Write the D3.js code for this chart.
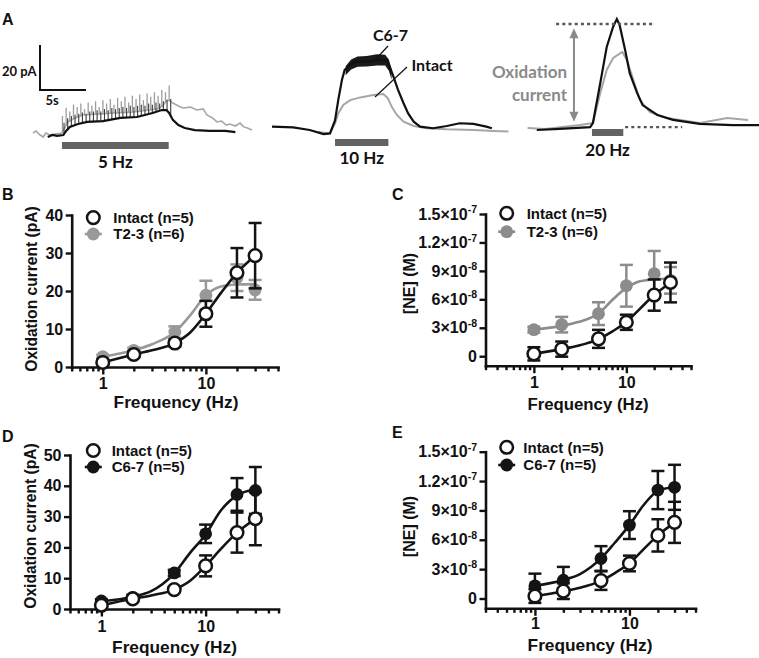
<!DOCTYPE html>
<html><head><meta charset="utf-8">
<script src="https://cdn.jsdelivr.net/npm/d3@7"></script>
<style>body{margin:0;background:#fff}svg{display:block}</style>
</head><body>
<svg id="c" width="759" height="658"></svg>
<script>
// ---------------- DATA ----------------
// Panels B-E: frequency response (mean ± SEM)
const freqHz = [1, 2, 5, 10, 20, 30];
const intactCurrent    = [1.2, 3.3, 6.3, 14.0, 24.8, 29.3];
const intactCurrentSem = [0.6, 0.8, 0.9, 3.4, 6.5, 8.6];
const t23Current       = [2.7, 4.4, 9.2, 18.9, 23.5, 20.3];
const t23CurrentSem    = [0.5, 0.7, 1.5, 3.8, 3.5, 2.6];
const c67Current       = [2.6, 3.8, 11.7, 24.4, 37.2, 38.5];
const c67CurrentSem    = [0.6, 0.8, 1.0, 3.0, 5.3, 7.6];
const intactNE    = [0.25e-8, 0.75e-8, 1.83e-8, 3.58e-8, 6.45e-8, 7.78e-8];
const intactNESem = [0.7e-8, 0.8e-8, 0.95e-8, 0.8e-8, 1.65e-8, 2.1e-8];
const t23NE       = [2.8e-8, 3.33e-8, 4.49e-8, 7.43e-8, 8.7e-8, 8.0e-8];
const t23NESem    = [0.3e-8, 0.82e-8, 1.2e-8, 2.2e-8, 2.4e-8, 1.4e-8];
const c67NE       = [1.29e-8, 1.87e-8, 4.09e-8, 7.5e-8, 11.08e-8, 11.36e-8];
const c67NESem    = [1.25e-8, 1.36e-8, 1.26e-8, 1.42e-8, 1.95e-8, 2.3e-8];
// fitted curves
const curveFreqHz = [1, 2, 3, 5, 7, 10, 14, 20, 30];
const intactCurrentFit = [1.2, 3.3, 4.4, 6.3, 9.0, 14.0, 19.5, 24.8, 29.3];
const t23CurrentFit    = [2.7, 4.4, 6.0, 9.2, 13.5, 18.9, 21.2, 21.7, 21.8];
const c67CurrentFit    = [2.5, 4.0, 5.8, 11.6, 18.0, 24.2, 32.0, 36.9, 38.8];
const intactNEFit = [0.25e-8, 0.75e-8, 1.1e-8, 1.8e-8, 2.6e-8, 3.6e-8, 5.0e-8, 6.45e-8, 7.75e-8];
const t23NEFit    = [2.8e-8, 3.2e-8, 3.6e-8, 4.5e-8, 5.9e-8, 7.2e-8, 7.9e-8, 8.1e-8, 8.2e-8];
const c67NEFit    = [1.3e-8, 1.9e-8, 2.5e-8, 4.1e-8, 5.7e-8, 7.5e-8, 9.5e-8, 11.0e-8, 11.4e-8];
const currentTicks = [0, 10, 20, 30, 40];
const currentTicksD = [0, 10, 20, 30, 40, 50];
const neTicks = [0, 3e-8, 6e-8, 9e-8, 1.2e-7, 1.5e-7];
const freqMajorTicks = [1, 10];
const freqMinorTicks = [0.3, 0.4, 0.5, 0.6, 0.7, 0.8, 0.9, 2, 3, 4, 5, 6, 7, 8, 9, 20, 30, 40, 50];

// Panel A: example traces, [time s, current pA]
const trace5Gray = [[0,0.9],[0.33,1.8],[0.65,0.4],[1.1,-0.9],[1.4,0.9],[1.85,0],[2.4,0.4],[3.15,0.9],[3.8,5.8],[4.6,7.6],[5.4,8.9],[7.3,9.3],[8.9,9.8],[10.9,10.2],[12.7,11.1],[13.5,11.6],[14.1,12.9],[14.6,15.6],[14.9,15.1],[15.2,14.2],[15.8,12.9],[16.3,12.0],[17.1,12.4],[17.8,11.1],[18.5,11.6],[18.9,8.9],[19.5,7.6],[20.0,5.8],[20.5,6.2],[21.0,4.4],[21.4,4.9],[22.0,4.0],[22.5,5.3],[22.9,3.6],[23.3,3.1],[23.8,2.2]];
const trace5Black = [[1.6,-0.9],[2.1,0],[2.6,-0.4],[3.3,0],[3.6,1.8],[4.0,3.6],[4.9,4.9],[5.9,5.8],[7.6,6.2],[9.5,7.6],[11.3,8.0],[13.0,9.8],[14.0,11.1],[14.5,11.1],[14.8,9.8],[15.2,6.7],[15.8,4.4],[16.5,3.1],[17.6,2.2],[19.2,1.8],[20.9,1.8],[22.0,1.3]];
const spike5GrayTops = [8.5,12.0,10.5,13.5,12.5,14.0,11.5,14.5,13.0,15.0,12.5,15.5,14.0,16.0,13.5,16.5,15.0,17.0,14.5,17.5,16.0,18.0,15.5,18.5,17.0,19.0,17.5,20.0,19.0,22.0];
const spike5BlackTops = [5.5,7.5,8.5,9.0,9.5,10.0,9.5,10.5,10.5,11.0,10.5,11.5,11.0,12.0,11.5,12.0,12.5,12.0,13.0,12.5,13.0,13.5,13.0,14.0,13.5,14.5,14.0,15.0,15.5,16.0];
const trace10Black = [[0,0.6],[2.3,0.3],[4.1,-0.9],[5.6,-2.7],[6.3,-2.4],[6.85,3.4],[7.2,12.4],[7.6,21.3],[7.9,25.8],[8.5,28.0],[9.2,29.5],[10.3,29.5],[11.4,30.2],[12.5,30.2],[12.8,27.3],[13.2,22.8],[13.7,16.9],[14.3,11.0],[14.8,6.5],[15.4,2.8],[16.1,0.6],[17.5,-0.1],[19.0,0.9],[20.4,2.1],[21.9,1.8],[23.3,0.6],[23.9,-0.1]];
const band10Upper = [[8.0,27.5],[8.6,30.5],[9.3,31.8],[10.3,32.0],[11.4,32.8],[12.3,32.6],[12.7,30.5],[13.0,26.0]];
const band10Lower = [[8.0,23.5],[8.6,26.0],[9.3,27.2],[10.3,27.3],[11.4,27.8],[12.3,27.8],[12.7,25.5],[13.0,21.5]];
const trace10Gray = [[5.0,-1.8],[6.3,-2.4],[6.85,2.1],[7.2,6.5],[7.75,10.2],[8.5,12.4],[9.6,13.6],[11.0,14.7],[12.1,15.1],[12.6,13.2],[13.0,9.5],[13.55,5.9],[14.3,2.8],[15.4,0.9],[16.8,-0.1],[19.0,-0.6],[21.9,-0.9],[24.1,-1.3],[25.7,-1.6]];
const trace20Black = [[4.0,-0.9],[6.5,-0.4],[9.8,0.4],[10.1,2.2],[10.9,20.0],[11.6,36.0],[12.3,45.0],[12.7,48.4],[13.0,45.8],[13.6,34.7],[14.1,24.4],[14.9,15.6],[15.5,10.2],[17.1,5.8],[18.8,3.6],[21.7,1.8],[25.3,1.3],[28.2,1.3]];
const trace20Gray = [[3.0,0],[4.9,-0.4],[8.7,1.3],[10.1,2.2],[10.9,15.6],[11.6,25.8],[12.3,31.1],[13.3,33.8],[13.8,30.2],[14.5,21.3],[15.2,12.4],[16.3,7.1],[18.2,4.4],[21.7,2.2],[24.7,4.4],[26.96,3.6]];
const stimStart = [3.15, 6.85, 10.0];
const stimDur = [11.6, 5.8, 3.4];
const stimLabels = ['5 Hz', '10 Hz', '20 Hz'];
const spikeFreq5 = 2.5; // drawn spikes per second
const peakLevel20 = 46.2, baseLevel20 = 0.4;
const scaleBarPA = 20, scaleBarS = 5;

// ---------------- DRAW ----------------
const svg = d3.select('#c');
const AX = "'Liberation Sans', Arial, Helvetica, sans-serif";
const CAL = "Lato, 'Open Sans', sans-serif";
const INK = '#111';

// panel letters
[['A',2,25],['B',2,200],['C',392,200],['D',2,442],['E',392,438]].forEach(([t,x,y]) =>
  svg.append('text').attr('x',x).attr('y',y).text(t).attr('font-family',AX)
     .attr('font-weight','bold').attr('font-size',16).attr('fill',INK));

// ---- Panel A ----
const subs = [{x0:33, y0:135, barY:142, labY:168}, {x0:272, y0:128, barY:139, labY:164}, {x0:500, y0:128, barY:129, labY:156}];
const PXS = 9.2, PXA = 2.25;
subs.forEach(s => {
  s.x = d3.scaleLinear().domain([0, 10]).range([s.x0, s.x0 + 10*PXS]);
  s.y = d3.scaleLinear().domain([0, 20]).range([s.y0, s.y0 - 20*PXA]);
  s.line = d3.line().x(d => s.x(d[0])).y(d => s.y(d[1])).curve(d3.curveLinear);
});
const gA = svg.append('g');
function interp(arr, t){
  for (let i=1;i<arr.length;i++){ if (arr[i][0] >= t){ const a=arr[i-1], b=arr[i]; const f=(t-a[0])/(b[0]-a[0]); return a[1]+f*(b[1]-a[1]); } }
  return arr[arr.length-1][1];
}
// sub 1
{
  const s = subs[0];
  gA.append('path').datum(trace5Gray).attr('d', s.line).attr('fill','none').attr('stroke','#a6a6a6').attr('stroke-width',1.6);
  spike5GrayTops.forEach((top,k) => {
    const t = stimStart[0] + k/spikeFreq5 + 0.05;
    gA.append('line').attr('x1',s.x(t)).attr('x2',s.x(t)).attr('y1',s.y(interp(trace5Gray,t))).attr('y2',s.y(top))
      .attr('stroke','#9d9d9d').attr('stroke-width',1.3);
  });
  spike5BlackTops.forEach((top,k) => {
    const t = stimStart[0] + k/spikeFreq5 + 0.22;
    gA.append('line').attr('x1',s.x(t)).attr('x2',s.x(t)).attr('y1',s.y(interp(trace5Black,t))).attr('y2',s.y(top))
      .attr('stroke','#3a3a3a').attr('stroke-width',1.1);
  });
  gA.append('path').datum(trace5Black).attr('d', s.line).attr('fill','none').attr('stroke',INK).attr('stroke-width',2.2);
}
// sub 2
{
  const s = subs[1];
  gA.append('path').datum(trace10Gray).attr('d', s.line).attr('fill','none').attr('stroke','#a6a6a6').attr('stroke-width',2);
  const area = d3.area().x(d => s.x(d[0])).y0((d,i) => s.y(band10Lower[i][1])).y1(d => s.y(d[1]));
  gA.append('path').datum(band10Upper).attr('d', area).attr('fill','#1a1a1a');
  gA.append('path').datum(trace10Black).attr('d', s.line).attr('fill','none').attr('stroke',INK).attr('stroke-width',2.2);
}
// sub 3
{
  const s = subs[2];
  gA.append('path').datum(trace20Gray).attr('d', s.line).attr('fill','none').attr('stroke','#a6a6a6').attr('stroke-width',2);
  gA.append('path').datum(trace20Black).attr('d', s.line).attr('fill','none').attr('stroke',INK).attr('stroke-width',2.2);
  gA.append('line').attr('x1',s.x(6.1)).attr('x2',s.x(16.8)).attr('y1',s.y(peakLevel20)).attr('y2',s.y(peakLevel20))
    .attr('stroke','#555').attr('stroke-width',2.4).attr('stroke-dasharray','3,3.2');
  gA.append('line').attr('x1',s.x(13.6)).attr('x2',s.x(19.8)).attr('y1',s.y(baseLevel20)).attr('y2',s.y(baseLevel20))
    .attr('stroke','#555').attr('stroke-width',2.4).attr('stroke-dasharray','3,3.2');
  // double arrow
  const ax = s.x(8.04), yt = s.y(44.3), yb = s.y(2.8);
  gA.append('line').attr('x1',ax).attr('x2',ax).attr('y1',yt+8).attr('y2',yb-8).attr('stroke','#8a8a8a').attr('stroke-width',2);
  gA.append('path').attr('d',`M${ax},${yt}L${ax-4.5},${yt+10}L${ax+4.5},${yt+10}Z`).attr('fill','#8a8a8a');
  gA.append('path').attr('d',`M${ax},${yb}L${ax-4.5},${yb-10}L${ax+4.5},${yb-10}Z`).attr('fill','#8a8a8a');
  gA.append('text').attr('x',567).attr('y',78).attr('text-anchor','end').text('Oxidation')
    .attr('font-family',CAL).attr('font-weight','bold').attr('font-size',17).attr('fill','#8a8a8a');
  gA.append('text').attr('x',567).attr('y',101).attr('text-anchor','end').text('current')
    .attr('font-family',CAL).attr('font-weight','bold').attr('font-size',17).attr('fill','#8a8a8a');
}
// stimulus bars and labels
subs.forEach((s,i) => {
  gA.append('rect').attr('x',s.x(stimStart[i])).attr('y',s.barY).attr('width',s.x(stimStart[i]+stimDur[i])-s.x(stimStart[i])).attr('height',7)
    .attr('fill','#636363');
  gA.append('text').attr('x',(s.x(stimStart[i])+s.x(stimStart[i]+stimDur[i]))/2).attr('y',s.labY).attr('text-anchor','middle')
    .text(stimLabels[i]).attr('font-family',CAL).attr('font-weight','bold').attr('font-size',17).attr('fill',INK);
});
// scale bar
{
  const s = subs[0];
  const sbx = 40, sby = 90;
  const w = s.x(scaleBarS) - s.x(0), h = s.y(0) - s.y(scaleBarPA);
  gA.append('path').attr('d',`M${sbx},${sby-h}V${sby}H${sbx+w}`).attr('fill','none').attr('stroke',INK).attr('stroke-width',2);
  gA.append('text').attr('x',2).attr('y',76).text(`${scaleBarPA} pA`).attr('font-family',CAL).attr('font-weight','bold').attr('font-size',13).attr('fill',INK);
  gA.append('text').attr('x',45.5).attr('y',105).text(`${scaleBarS}s`).attr('font-family',CAL).attr('font-weight','bold').attr('font-size',13).attr('fill',INK);
}
// trace labels
gA.append('text').attr('x',373).attr('y',40.5).text('C6-7').attr('font-family',CAL).attr('font-weight','bold').attr('font-size',16).attr('fill',INK);
gA.append('text').attr('x',411.5).attr('y',70.5).text('Intact').attr('font-family',CAL).attr('font-weight','bold').attr('font-size',16).attr('fill',INK);
gA.append('line').attr('x1',388).attr('y1',46).attr('x2',375).attr('y2',60).attr('stroke',INK).attr('stroke-width',1.2);
gA.append('line').attr('x1',407).attr('y1',67).attr('x2',375).attr('y2',97).attr('stroke',INK).attr('stroke-width',1.2);

// ---- Panels B-E ----
const GRAY = '#999', GRAYC = '#8c8c8c', BLACK = '#141414';
const panels = [
  {xDom:[0.5,50], xr:[71.7,278], yDom:[0,40], yr:[367,215], yTicks:currentTicks, sci:false,
   yTitle:'Oxidation current (pA)', yT:[37,289], yTS:15.6, xT:[176,408], xTS:17.3, tickLabY:21.5,
   leg:{mx:93.3, my:[217.6,234], tx:113.3},
   series:[{name:'T2-3 (n=6)', v:t23Current, e:t23CurrentSem, fit:t23CurrentFit, color:GRAY, open:false},
           {name:'Intact (n=5)', v:intactCurrent, e:intactCurrentSem, fit:intactCurrentFit, color:BLACK, open:true}]},
  {xDom:[0.3,50], xr:[485.5,691], yDom:[-1e-8,1.5e-7], yr:[365.7,214], yTicks:neTicks, sci:true,
   yTitle:'[NE] (M)', yT:[415,283.5], yTS:16, xT:[588,410], xTS:16.8, tickLabY:22.6,
   leg:{mx:506.7, my:[213.3,231.7], tx:526.7},
   series:[{name:'T2-3 (n=6)', v:t23NE, e:t23NESem, fit:t23NEFit, color:GRAYC, open:false},
           {name:'Intact (n=5)', v:intactNE, e:intactNESem, fit:intactNEFit, color:BLACK, open:true}]},
  {xDom:[0.5,50], xr:[70,278.5], yDom:[0,50], yr:[609,455], yTicks:currentTicksD, sci:false,
   yTitle:'Oxidation current (pA)', yT:[35.5,526], yTS:15.6, xT:[174.5,653], xTS:17.3, tickLabY:22.6,
   leg:{mx:93.3, my:[450.5,467], tx:111.7},
   series:[{name:'C6-7 (n=5)', v:c67Current, e:c67CurrentSem, fit:c67CurrentFit, color:BLACK, open:false},
           {name:'Intact (n=5)', v:intactCurrent, e:intactCurrentSem, fit:intactCurrentFit, color:BLACK, open:true}]},
  {xDom:[0.3,50], xr:[485.5,695.5], yDom:[-1e-8,1.5e-7], yr:[608.3,451.7], yTicks:neTicks, sci:true,
   yTitle:'[NE] (M)', yT:[415,526.5], yTS:16, xT:[590,651], xTS:17.3, tickLabY:21.2,
   leg:{mx:506.7, my:[447.3,465], tx:523.3},
   series:[{name:'C6-7 (n=5)', v:c67NE, e:c67NESem, fit:c67NEFit, color:BLACK, open:false},
           {name:'Intact (n=5)', v:intactNE, e:intactNESem, fit:intactNEFit, color:BLACK, open:true}]}
];

function styleAxis(a){
  a.attr('font-family',AX).attr('font-size',16).attr('font-weight','bold');
  a.selectAll('path.domain').attr('stroke',INK).attr('stroke-width',2.6).attr('stroke-linecap','square');
  a.selectAll('.tick line').attr('stroke',INK).attr('stroke-width',2.4);
  a.selectAll('.tick text').attr('fill',INK);
}

panels.forEach(p => {
  const g = svg.append('g');
  const x = d3.scaleLog().domain(p.xDom).range(p.xr);
  const y = d3.scaleLinear().domain(p.yDom).range(p.yr);
  const base = p.yr[0];
  // minor x ticks
  const minor = g.append('g').attr('transform',`translate(0,${base})`)
    .call(d3.axisBottom(x).tickValues(freqMinorTicks.filter(v => v >= p.xDom[0] && v <= p.xDom[1])).tickSize(4.5).tickFormat(''));
  styleAxis(minor);
  minor.select('path.domain').remove();
  const xa = g.append('g').attr('transform',`translate(0,${base})`)
    .call(d3.axisBottom(x).tickValues(freqMajorTicks).tickSize(7.5).tickSizeOuter(0).tickPadding(2).tickFormat(d3.format('d')));
  styleAxis(xa);
  xa.selectAll('.tick text').attr('dy',null).attr('y',p.tickLabY);
  const ya = g.append('g').attr('transform',`translate(${p.xr[0]},0)`)
    .call(d3.axisLeft(y).tickValues(p.yTicks).tickSize(6).tickSizeOuter(0).tickPadding(2.5).tickFormat(d3.format('d')));
  styleAxis(ya);
  if (p.sci) {
    ya.selectAll('.tick text').each(function(d){
      const t = d3.select(this); t.text('');
      if (d === 0) { t.text('0'); return; }
      const ex = Math.floor(Math.log10(d) + 1e-9);
      const m = parseFloat((d / Math.pow(10, ex)).toFixed(2));
      t.append('tspan').text(`${m}\u00d710`);
      t.append('tspan').text(`${ex}`).attr('font-size',10.5).attr('dy','-0.62em');
    });
  }
  // titles
  g.append('text').attr('transform',`translate(${p.yT[0]},${p.yT[1]}) rotate(-90)`).attr('text-anchor','middle')
    .text(p.yTitle).attr('font-family',AX).attr('font-weight','bold').attr('font-size',p.yTS).attr('fill',INK);
  g.append('text').attr('x',p.xT[0]).attr('y',p.xT[1]).attr('text-anchor','middle')
    .text('Frequency (Hz)').attr('font-family',AX).attr('font-weight','bold').attr('font-size',p.xTS).attr('fill',INK);
  // series
  const fitLine = d3.line().x((d,i) => x(curveFreqHz[i])).y(d => y(d)).curve(d3.curveMonotoneX);
  p.series.forEach(s => {
    g.append('path').datum(s.fit).attr('d', fitLine).attr('fill','none').attr('stroke',s.color).attr('stroke-width',2.6);
    const eb = g.append('g').attr('stroke',s.color).attr('stroke-width',2.5).attr('fill','none');
    freqHz.forEach((f,i) => {
      const cx = x(f), hi = y(s.v[i] + s.e[i]), lo = y(s.v[i] - s.e[i]);
      eb.append('line').attr('x1',cx).attr('x2',cx).attr('y1',hi).attr('y2',lo);
      eb.append('line').attr('x1',cx-6.5).attr('x2',cx+6.5).attr('y1',hi).attr('y2',hi);
      eb.append('line').attr('x1',cx-6.5).attr('x2',cx+6.5).attr('y1',lo).attr('y2',lo);
    });
    g.append('g').selectAll('circle').data(s.v).join('circle')
      .attr('cx',(d,i) => x(freqHz[i])).attr('cy',d => y(d))
      .attr('r', s.open ? 6.3 : 6.4)
      .attr('fill', s.open ? '#fff' : s.color)
      .attr('stroke', s.color).attr('stroke-width', s.open ? 2.5 : 0);
  });
  // legend: Intact first
  const legOrder = [p.series[1], p.series[0]];
  legOrder.forEach((s,k) => {
    const my = p.leg.my[k];
    if (!s.open) g.append('line').attr('x1',p.leg.mx-8.5).attr('x2',p.leg.mx+8.5).attr('y1',my).attr('y2',my).attr('stroke',s.color).attr('stroke-width',2.6);
    g.append('circle').attr('cx',p.leg.mx).attr('cy',my).attr('r', s.open ? 6.3 : 6.4)
      .attr('fill', s.open ? '#fff' : s.color).attr('stroke', s.color).attr('stroke-width', s.open ? 2.5 : 0);
    g.append('text').attr('x',p.leg.tx).attr('y',my+5.4).text(s.name)
      .attr('font-family',AX).attr('font-weight','bold').attr('font-size',15).attr('fill',INK);
  });
});
</script>
</body></html>
